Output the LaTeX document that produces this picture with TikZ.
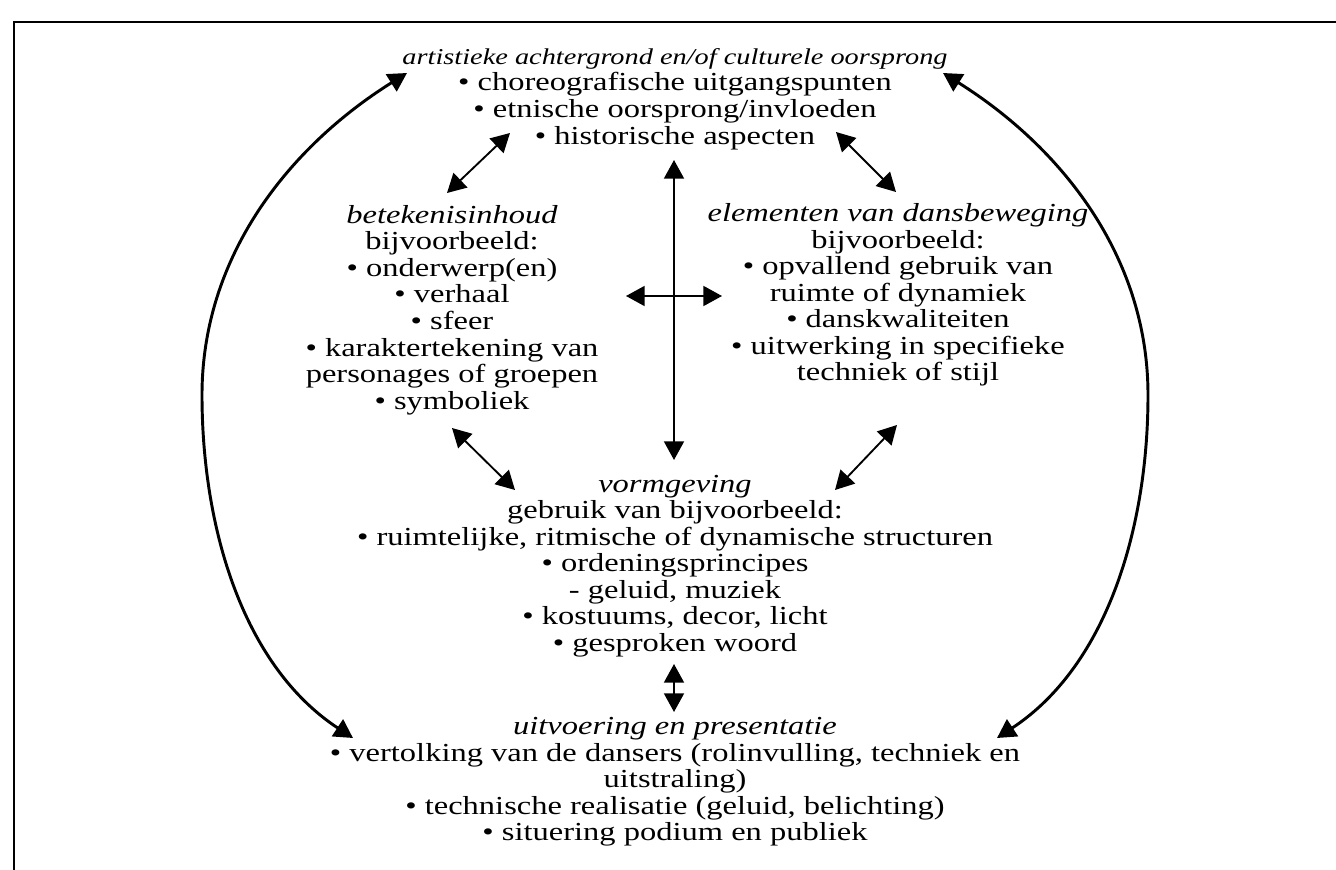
\documentclass[tikz,border=0pt]{standalone}
\usepackage{fontspec}
\setmainfont{Liberation Serif}[FakeStretch=1.25]
\usetikzlibrary{arrows.meta}
\begin{document}
\begin{tikzpicture}[x=0.75pt,y=-0.75pt,
  txt/.style={align=center, inner sep=0pt, font=\fontsize{19.5}{19.9}\selectfont},
  tip/.tip={Triangle[length=14pt,width=15pt]},
  arr/.style={line width=1.4pt, tip-tip},
  bigarr/.style={line width=2.2pt, tip-tip}]
\useasboundingbox (0,0) rectangle (1336,870);
\fill[white] (0,0) rectangle (1336,870);
\draw[line width=1.5pt] (14,870) -- (14,22) -- (1336,22);

\node[txt] (top) at (675,99) {{\fontsize{17}{19.9}\selectfont\itshape artistieke achtergrond en/of culturele oorsprong}\\ • choreografische uitgangspunten\\ • etnische oorsprong/invloeden\\ • historische aspecten};

\node[txt] (left) at (452,310) {{\itshape betekenisinhoud}\\ bijvoorbeeld:\\ • onderwerp(en)\\ • verhaal\\ • sfeer\\ • karaktertekening van\\ personages of groepen\\ • symboliek};

\node[txt] (right) at (898,295) {{\itshape elementen van dansbeweging}\\ bijvoorbeeld:\\ • opvallend gebruik van\\ ruimte of dynamiek\\ • danskwaliteiten\\ • uitwerking in specifieke\\ techniek of stijl};

\node[txt] (mid) at (675,566) {{\itshape vormgeving}\\ gebruik van bijvoorbeeld:\\ • ruimtelijke, ritmische of dynamische structuren\\ • ordeningsprincipes\\ - geluid, muziek\\ • kostuums, decor, licht\\ • gesproken woord};

\node[txt] (bot) at (675,782) {{\itshape uitvoering en presentatie}\\ • vertolking van de dansers (rolinvulling, techniek en\\ uitstraling)\\ • technische realisatie (geluid, belichting)\\ • situering podium en publiek};

\coordinate (tlA) at (447,193); \coordinate (tlB) at (510,133);
\coordinate (trA) at (836,132); \coordinate (trB) at (896,192);
\coordinate (vA) at (674,160);  \coordinate (vB) at (674,460);
\coordinate (hA) at (626,296);  \coordinate (hB) at (722,296);
\coordinate (llA) at (452,428); \coordinate (llB) at (515,490);
\coordinate (lrA) at (835,490); \coordinate (lrB) at (897,425);
\coordinate (svA) at (674,664); \coordinate (svB) at (674,712);
\coordinate (clA) at (407,73);  \coordinate (clM) at (202,395); \coordinate (clB) at (353,738);
\coordinate (crA) at (943,73);  \coordinate (crM) at (1148,395); \coordinate (crB) at (997,738);

\draw[arr] (tlA) -- (tlB);
\draw[arr] (trA) -- (trB);
\draw[arr] (vA) -- (vB);
\draw[arr] (hA) -- (hB);
\draw[arr] (llA) -- (llB);
\draw[arr] (lrA) -- (lrB);
\draw[arr] (svA) -- (svB);

\draw[bigarr] (clA) .. controls (289,147) and (202,256) .. (clM) .. controls (202,526) and (242,665) .. (clB);
\draw[bigarr] (crA) .. controls (1061,147) and (1148,256) .. (crM) .. controls (1148,526) and (1108,665) .. (crB);
\end{tikzpicture}
\end{document}
